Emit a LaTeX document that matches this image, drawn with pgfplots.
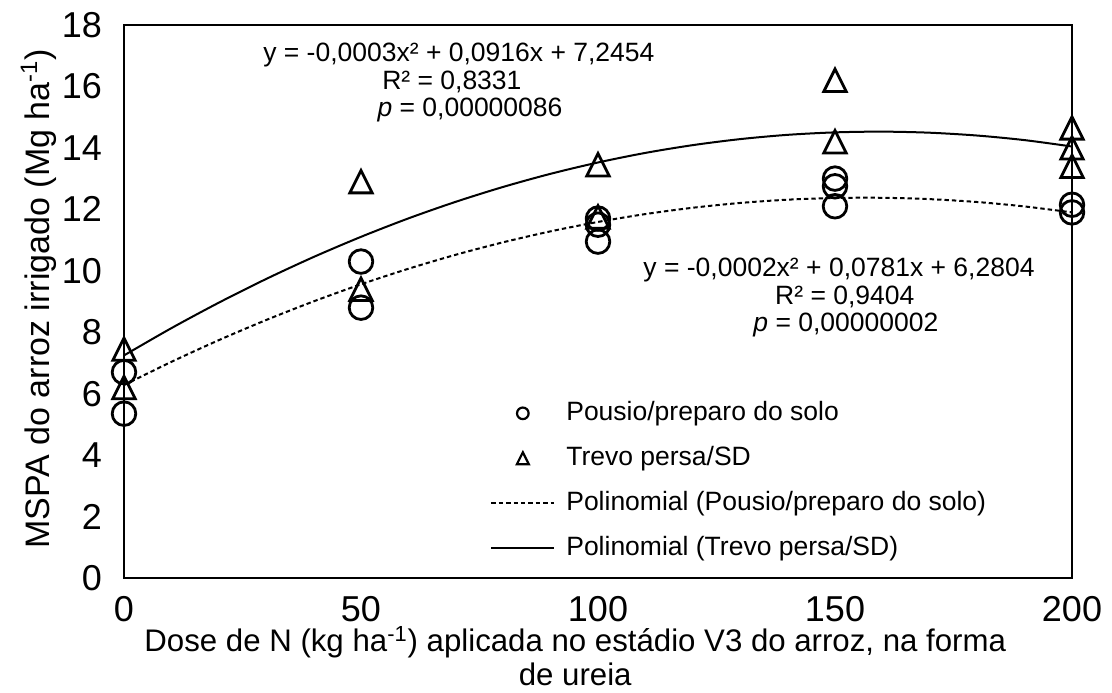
\documentclass[border=0pt]{standalone}
\usepackage{fontspec}
\setmainfont{Liberation Sans}
\usepackage{pgfplots}
\pgfplotsset{compat=1.18}
\pgfdeclareplotmark{xltri}{%
  \pgfpathmoveto{\pgfqpoint{0pt}{\pgfplotmarksize}}%
  \pgfpathlineto{\pgfqpoint{-\pgfplotmarksize}{-\pgfplotmarksize}}%
  \pgfpathlineto{\pgfqpoint{\pgfplotmarksize}{-\pgfplotmarksize}}%
  \pgfpathclose\pgfusepathqstroke}
\begin{document}
\begin{tikzpicture}
\useasboundingbox (-62pt,-57pt) rectangle (494pt,289pt);
\begin{axis}[
  at={(0pt,0pt)}, anchor=south west,
  scale only axis, width=474pt, height=276.5pt,
  xmin=0, xmax=200, ymin=0, ymax=18,
  xtick={0,50,100,150,200}, ytick={0,2,...,18},
  tick style={draw=none},
  axis line style={line width=0.9pt},
  clip=false,
  /pgf/number format/assume math mode=true,
  ticklabel style={font=\fontsize{18}{21}\selectfont},
  yticklabel style={xshift=-7.5pt},
  xticklabel style={inner sep=0pt, yshift=-9pt},
  ylabel={MSPA do arroz irrigado (Mg ha\textsuperscript{-1})},
  xlabel={Dose de N (kg ha\textsuperscript{-1}) aplicada no estádio V3 do arroz, na forma\\de ureia},
  ylabel style={at={(axis description cs:-0.09,0.505)}, anchor=center, font=\fontsize{17}{19}\selectfont},
  xlabel style={at={(axis description cs:0.476,-0.141)}, anchor=center, align=center, inner sep=0pt, font=\fontsize{15.6}{17}\selectfont},
  legend cell align=left,
  legend style={at={(axis description cs:0.386,0.322)}, anchor=north west,
    draw=none, fill=none, inner sep=0pt, row sep=9.5pt,
    font=\fontsize{13.25}{16}\selectfont,
    nodes={inner sep=0pt, text height=10pt, text depth=3pt}},
]
\addplot[only marks, mark=o, mark size=5.9pt, mark options={line width=1.4pt, black},
  legend image code/.code={\path[draw=none] (0pt,0pt) -- (37.5pt,0pt); \draw[black, line width=1.1pt] (15.75pt,0pt) circle (2.9pt);}]
  coordinates {(0,6.7) (0,5.35) (50,10.3) (50,8.8) (100,11.7) (100,11.5) (100,10.95)
    (150,13.0) (150,12.75) (150,12.1) (200,12.15) (200,11.9)};
\addlegendentry{Pousio/preparo do solo}
\addplot[only marks, mark=xltri, mark size=5.6pt, mark options={line width=1.4pt, black},
  legend image code/.code={\path[draw=none] (0pt,0pt) -- (37.5pt,0pt); \draw[black, line width=1.1pt] (15.75pt,3pt) -- (12.75pt,-3pt) -- (18.75pt,-3pt) -- cycle;}]
  coordinates {(0,7.45) (0,6.2) (50,12.9) (50,9.4) (100,13.45) (100,11.75)
    (150,16.2) (150,14.2) (200,14.65) (200,14.0) (200,13.4)};
\addlegendentry{Trevo persa/SD}
\addplot[black, line width=1pt, dash pattern=on 2.2pt off 1.5pt, smooth, no marks,
  legend image code/.code={\draw[black, line width=1pt, dash pattern=on 2.2pt off 1.5pt] (0pt,0pt) -- (31.5pt,0pt); \path[draw=none] (31.5pt,0pt) -- (37.5pt,0pt);}]
  coordinates {(0,6.280) (10,7.036) (20,7.742) (30,8.398) (40,9.004) (50,9.560)
    (60,10.066) (70,10.522) (80,10.928) (90,11.284) (100,11.590) (110,11.846)
    (120,12.052) (130,12.208) (140,12.314) (150,12.370) (160,12.376) (170,12.332)
    (180,12.238) (190,12.094) (200,11.900)};
\addlegendentry{Polinomial (Pousio/preparo do solo)}
\addplot[black, line width=1pt, smooth, no marks,
  legend image code/.code={\draw[black, line width=1pt] (0pt,0pt) -- (31.5pt,0pt); \path[draw=none] (31.5pt,0pt) -- (37.5pt,0pt);}]
  coordinates {(0,7.245) (10,8.133) (20,8.962) (30,9.734) (40,10.449) (50,11.105)
    (60,11.705) (70,12.246) (80,12.730) (90,13.157) (100,13.525) (110,13.837)
    (120,14.090) (130,14.286) (140,14.425) (150,14.505) (160,14.529) (170,14.494)
    (180,14.402) (190,14.253) (200,14.045)};
\addlegendentry{Polinomial (Trevo persa/SD)}
\begin{scope}[every node/.style={inner sep=0pt, anchor=base west, font=\fontsize{13.25}{16}\selectfont}]
\node at (axis cs:29.3,16.81) {y = -0,0003x² + 0,0916x + 7,2454};
\node at (axis cs:54.4,15.89) {R² = 0,8331};
\node at (axis cs:53.4,15.02) {\textit{p} = 0,00000086};
\node at (axis cs:109.5,9.81) {y = -0,0002x² + 0,0781x + 6,2804};
\node at (axis cs:137.3,8.89) {R² = 0,9404};
\node at (axis cs:132.7,8.02) {\textit{p} = 0,00000002};
\end{scope}
\end{axis}
\end{tikzpicture}
\end{document}
